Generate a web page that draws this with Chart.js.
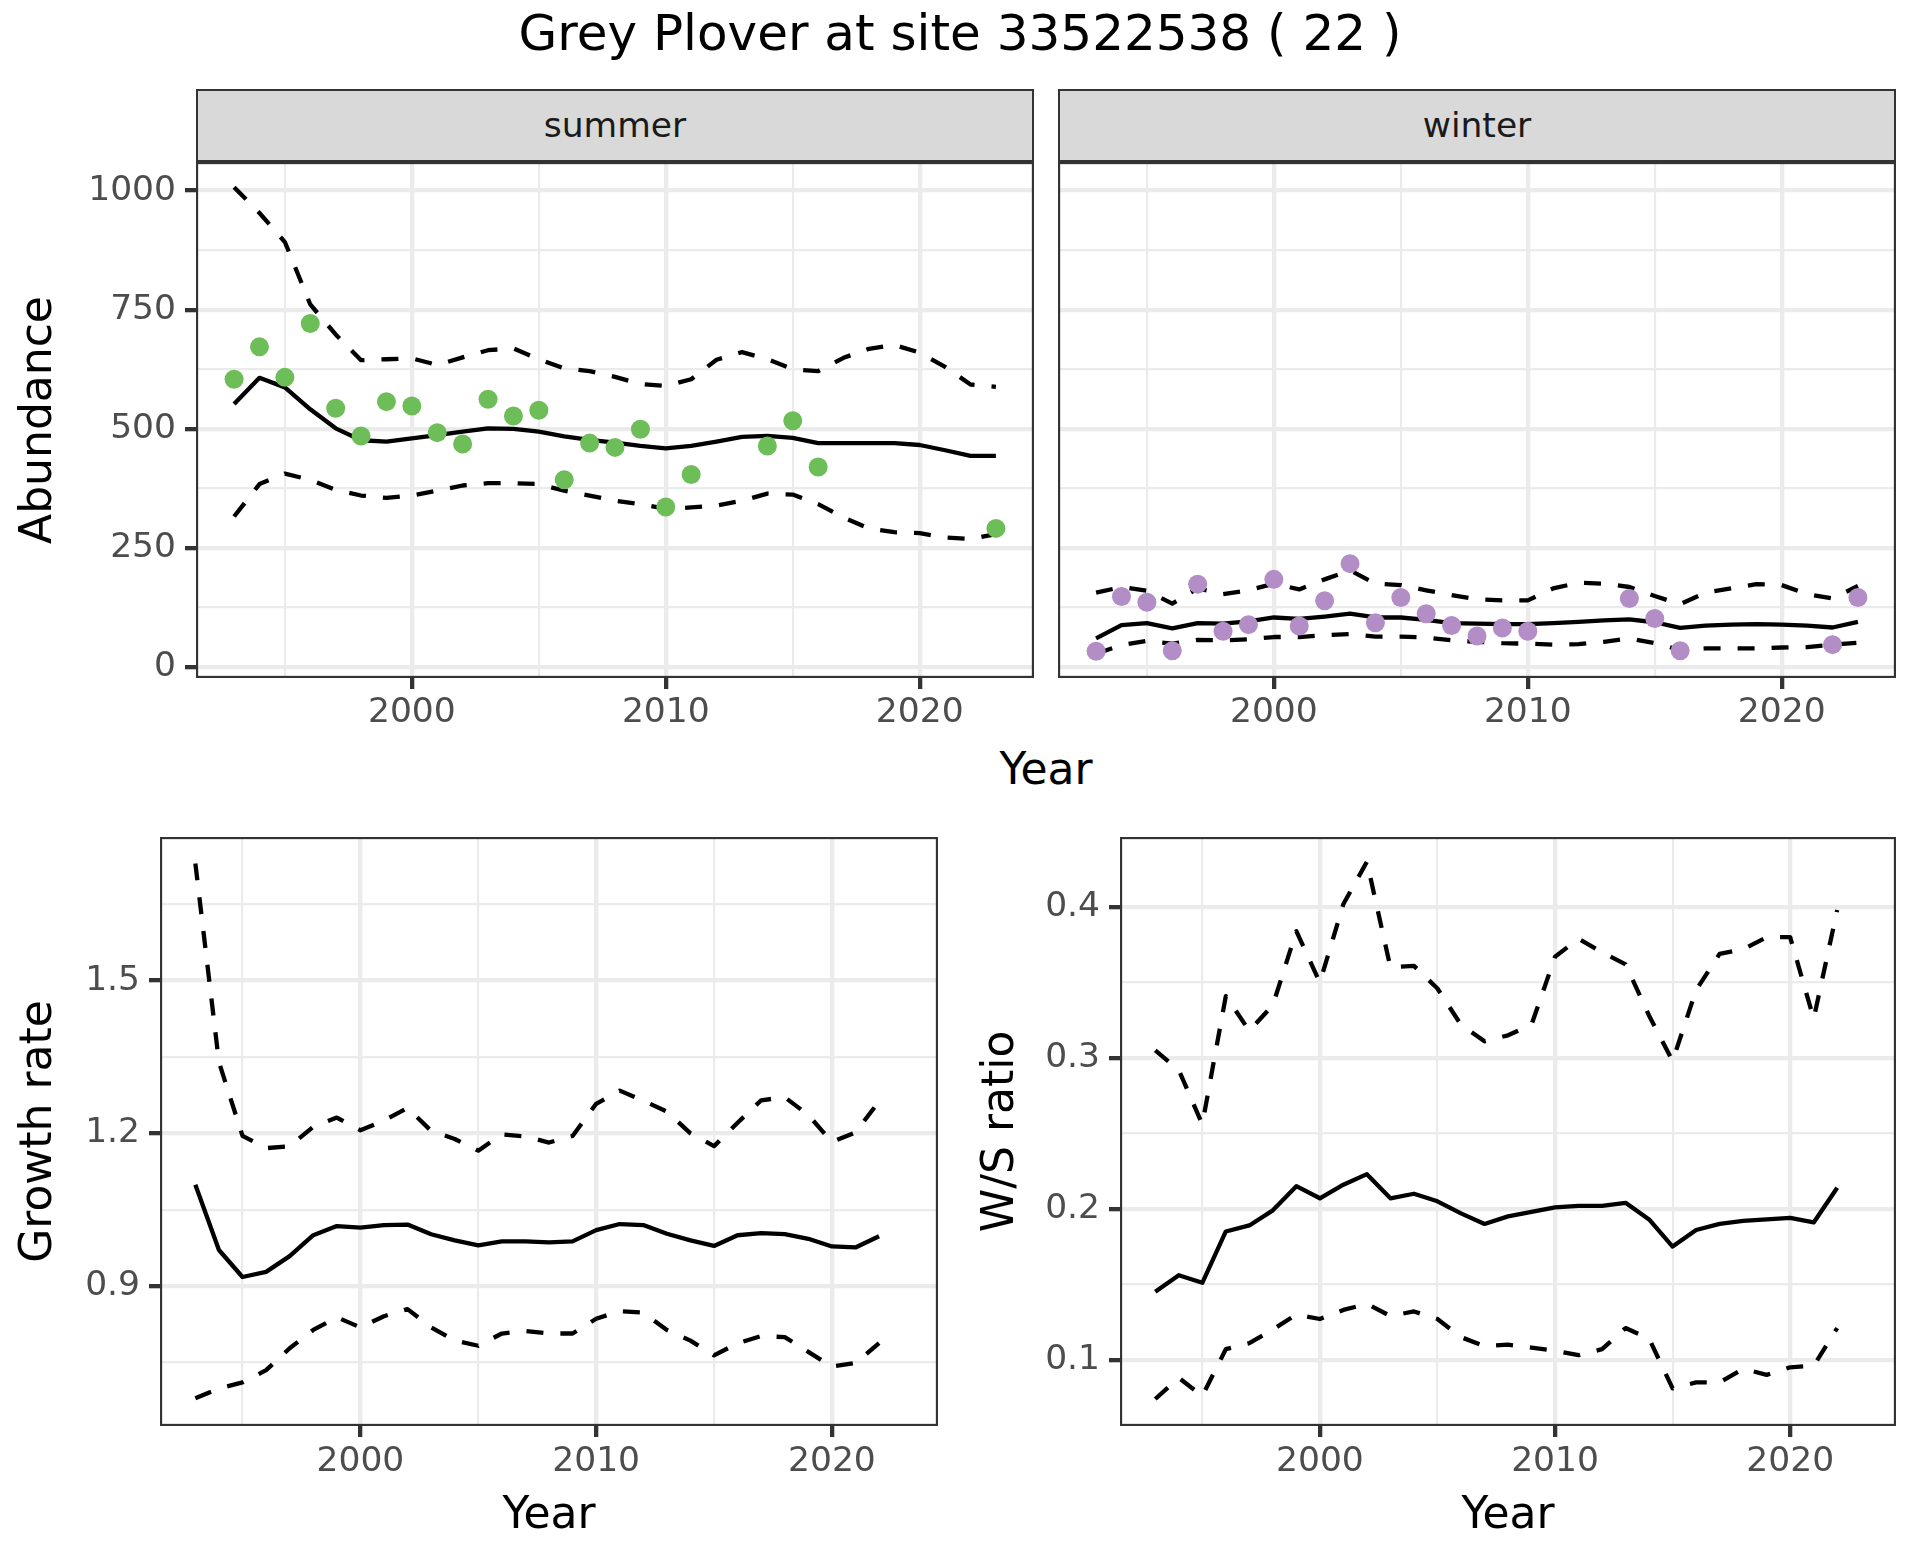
<!DOCTYPE html>
<html>
<head>
<meta charset="utf-8">
<script src="https://cdn.jsdelivr.net/npm/chart.js@4/dist/chart.umd.min.js"></script>
<style>
html, body { margin: 0; padding: 0; background: #ffffff; }
#page { position: relative; width: 1920px; height: 1560px; overflow: hidden; font-family: 'DejaVu Sans', sans-serif; background: #ffffff; }
canvas { position: absolute; }
.txt { position: absolute; white-space: nowrap; line-height: 1; color: #000000; }
.strip { position: absolute; box-sizing: border-box; background: #d9d9d9; border: 2px solid #333333;
         display: flex; align-items: center; justify-content: center; font-size: 34.5px; color: #1a1a1a; line-height: 1; }
</style>
</head>
<body>
<div id="page">
  <div class="txt" style="left:0; width:1920px; text-align:center; top:8px; font-size:50px;">Grey Plover at site 33522538 ( 22 )</div>
  <div class="strip" style="left:196px; top:89px; width:838px; height:73px;">summer</div>
  <div class="strip" style="left:1058px; top:89px; width:838px; height:73px;">winter</div>
  <div class="txt" style="left:0; width:2092px; text-align:center; top:747px; font-size:44px;">Year</div>
  <canvas id="cSummer" width="1080" height="638" style="left:0px; top:122px; width:1080px; height:638px;"></canvas>
  <canvas id="cWinter" width="900" height="638" style="left:1040px; top:122px; width:900px; height:638px;"></canvas>
  <canvas id="cGrowth" width="990" height="760" style="left:0px; top:800px; width:990px; height:760px;"></canvas>
  <canvas id="cRatio" width="1000" height="760" style="left:960px; top:800px; width:1000px; height:760px;"></canvas>
</div>
<script>
// ---------------- data ----------------
const years = [1993, 1994, 1995, 1996, 1997, 1998, 1999, 2000, 2001, 2002, 2003, 2004, 2005, 2006, 2007, 2008,
               2009, 2010, 2011, 2012, 2013, 2014, 2015, 2016, 2017, 2018, 2019, 2020, 2021, 2022, 2023];
const ratioYears = [1993, 1994, 1995, 1996, 1997, 1998, 1999, 2000, 2001, 2002, 2003, 2004, 2005, 2006, 2007,
                    2008, 2009, 2010, 2011, 2012, 2013, 2014, 2015, 2016, 2017, 2018, 2019, 2020, 2021, 2022];

const summerObserved = [604, 672, 608, 721, 543, 485, 557, 548, 492, 468, 562, 527, 539, 393, 470, 461,
                        499, 336, 404, null, null, 464, 517, 420, null, null, null, null, null, null, 291];
const summerFit   = [552, 607, 587, 541, 501, 476, 473, 480, 487, 494, 501, 500, 494, 484, 477, 471,
                     464, 459, 464, 473, 483, 485, 481, 470, 470, 470, 470, 466, 455, 443, 443];
const summerUpper = [1007, 953, 892, 761, 698, 644, 646, 648, 634, 650, 665, 669, 646, 627, 621, 609,
                     594, 590, 604, 645, 661, 646, 625, 621, 649, 668, 676, 660, 630, 593, 588];
const summerLower = [316, 384, 406, 393, 372, 360, 355, 360, 370, 381, 386, 386, 384, 370, 360, 349,
                     342, 332, 335, 339, 349, 364, 362, 342, 314, 291, 283, 281, 272, 269, 279];

const winterObserved = [33, 148, 136, 34, 174, 75, 89, 184, 86, 139, 217, 93, 146, 112, 87, 65,
                        82, 75, null, null, null, 144, 102, 34, null, null, null, null, null, 47, 146];
const winterFit   = [60, 88, 92, 81, 92, 91, 96, 104, 101, 106, 112, 104, 104, 99, 92, 91,
                     90, 90, 92, 95, 98, 100, 94, 82, 87, 89, 90, 89, 87, 83, 95];
const winterUpper = [156, 168, 160, 133, 165, 153, 161, 175, 163, 184, 203, 175, 172, 161, 151, 142,
                     140, 140, 165, 177, 175, 168, 149, 132, 156, 165, 174, 172, 153, 144, 170];
const winterLower = [28, 46, 55, 49, 57, 56, 58, 63, 63, 67, 69, 64, 64, 62, 56, 53,
                     50, 49, 47, 48, 53, 60, 50, 36, 39, 39, 39, 41, 42, 47, 51];

const growthFit   = [1.099, 0.971, 0.918, 0.928, 0.959, 1.000, 1.018, 1.015, 1.020, 1.021, 1.002, 0.990, 0.980, 0.988, 0.988,
                     0.986, 0.988, 1.010, 1.022, 1.020, 1.003, 0.990, 0.979, 1.000, 1.004, 1.002, 0.993, 0.978, 0.976, 0.998];
const growthUpper = [1.730, 1.340, 1.195, 1.171, 1.175, 1.213, 1.231, 1.206, 1.225, 1.250, 1.205, 1.189, 1.166, 1.198, 1.194,
                     1.182, 1.195, 1.258, 1.284, 1.264, 1.243, 1.200, 1.175, 1.221, 1.265, 1.271, 1.236, 1.183, 1.202, 1.263];
const growthLower = [0.680, 0.699, 0.711, 0.735, 0.778, 0.814, 0.839, 0.819, 0.841, 0.855, 0.819, 0.793, 0.783, 0.807, 0.812,
                     0.807, 0.807, 0.836, 0.851, 0.848, 0.814, 0.793, 0.764, 0.788, 0.802, 0.800, 0.771, 0.742, 0.749, 0.788];

const ratioFit   = [0.145, 0.156, 0.151, 0.185, 0.189, 0.199, 0.215, 0.207, 0.216, 0.223, 0.207, 0.210, 0.205, 0.197, 0.190,
                    0.195, 0.198, 0.201, 0.202, 0.202, 0.204, 0.193, 0.175, 0.186, 0.190, 0.192, 0.193, 0.194, 0.191, 0.214];
const ratioUpper = [0.305, 0.292, 0.256, 0.341, 0.318, 0.335, 0.384, 0.350, 0.402, 0.430, 0.360, 0.361, 0.346, 0.322, 0.311,
                    0.315, 0.322, 0.367, 0.379, 0.370, 0.362, 0.328, 0.298, 0.345, 0.369, 0.372, 0.380, 0.380, 0.326, 0.398];
const ratioLower = [0.074, 0.088, 0.076, 0.107, 0.111, 0.120, 0.130, 0.127, 0.133, 0.137, 0.129, 0.132, 0.127, 0.115, 0.109,
                    0.110, 0.108, 0.106, 0.103, 0.107, 0.121, 0.114, 0.081, 0.085, 0.085, 0.094, 0.090, 0.095, 0.096, 0.121];

// tick values and labels
const yearTicks = [2000, 2010, 2020];
const yearTickLabels = ['2000', '2010', '2020'];
const yearMinorTicks = [1995, 2005, 2015];
const abundanceTicks = [0, 250, 500, 750, 1000];
const abundanceTickLabels = ['0', '250', '500', '750', '1000'];
const abundanceMinorTicks = [125, 375, 625, 875];
const growthTicks = [0.9, 1.2, 1.5];
const growthTickLabels = ['0.9', '1.2', '1.5'];
const growthMinorTicks = [0.75, 1.05, 1.35, 1.65];
const ratioTicks = [0.1, 0.2, 0.3, 0.4];
const ratioTickLabels = ['0.1', '0.2', '0.3', '0.4'];
const ratioMinorTicks = [0.15, 0.25, 0.35];

// ---------------- styling ----------------
const FONT = "'DejaVu Sans', sans-serif";
const GREEN = '#6DBE58';
const PURPLE = '#B28DC6';
const LW = 4.3;
const DASH = [17, 17];

function pairs(xs, ys) {
  return xs.map((x, i) => ({ x: x, y: ys[i] })).filter(p => p.y !== null);
}

function axisOptions(cfg) {
  const all = cfg.minor.concat(cfg.major).sort((a, b) => a - b);
  const isMajor = c => c.tick && cfg.major.indexOf(c.tick.value) >= 0;
  return {
    type: 'linear',
    position: cfg.isX ? 'bottom' : 'left',
    min: cfg.min, max: cfg.max, bounds: 'data',
    afterBuildTicks: s => { s.ticks = all.map(v => ({ value: v })); },
    afterFit: s => { if (cfg.isX) { s.height = cfg.size; } else { s.width = cfg.size; } },
    border: { display: false },
    grid: {
      color: '#ebebeb',
      lineWidth: c => isMajor(c) ? LW : LW / 2,
      drawTicks: cfg.showTicks,
      tickLength: 11,
      tickWidth: LW,
      tickColor: c => isMajor(c) ? '#333333' : 'rgba(0,0,0,0)'
    },
    ticks: {
      display: cfg.showLabels,
      autoSkip: false, maxRotation: 0, minRotation: 0,
      padding: cfg.tickPad,
      color: '#4d4d4d',
      font: { family: FONT, size: 34.5 },
      callback: v => { const i = cfg.major.indexOf(v); return i >= 0 ? cfg.labels[i] : ''; }
    },
    title: cfg.title ? {
      display: true, text: cfg.title, color: '#000000',
      font: { family: FONT, size: 44, lineHeight: 1 },
      padding: cfg.titlePad
    } : { display: false }
  };
}

const panelBorder = {
  id: 'panelBorder',
  afterDatasetsDraw(chart) {
    const a = chart.chartArea, ctx = chart.ctx;
    ctx.save();
    ctx.strokeStyle = '#333333';
    ctx.lineWidth = 2.15;
    ctx.strokeRect(a.left + 1.075, a.top + 1.075, a.right - a.left - 2.15, a.bottom - a.top - 2.15);
    ctx.restore();
  }
};

function lineSet(label, xs, ys, dashed) {
  return { label: label, data: pairs(xs, ys), showLine: true, borderColor: '#000000', borderWidth: LW,
           borderDash: dashed ? DASH : [], borderCapStyle: 'butt', borderJoinStyle: 'round',
           pointRadius: 0, tension: 0, order: 1 };
}
function pointSet(label, xs, ys, color) {
  return { label: label, data: pairs(xs, ys), showLine: false, pointRadius: 9.5, pointBorderWidth: 0,
           pointBackgroundColor: color, backgroundColor: color, borderColor: color, order: 0 };
}

function makeChart(id, datasets, xAxis, yAxis, padding) {
  return new Chart(document.getElementById(id), {
    type: 'scatter',
    data: { datasets: datasets },
    options: {
      responsive: false, animation: false, events: [],
      layout: { padding: padding },
      plugins: { legend: { display: false }, tooltip: { enabled: false }, title: { display: false } },
      scales: { x: xAxis, y: yAxis }
    },
    plugins: [panelBorder]
  });
}

const topX = { isX: true, min: 1991.5, max: 2024.5, major: yearTicks, labels: yearTickLabels, minor: yearMinorTicks,
               size: 82, showTicks: true, showLabels: true, tickPad: 3.5 };
const bottomX = (title) => Object.assign({}, topX, { size: 134, tickPad: 4.3, title: title, titlePad: { top: 0, bottom: 21.5 } });

// summer panel
makeChart('cSummer', [
    pointSet('summer counts', years, summerObserved, GREEN),
    lineSet('summer fit', years, summerFit, false),
    lineSet('summer upper', years, summerUpper, true),
    lineSet('summer lower', years, summerLower, true)
  ],
  axisOptions(topX),
  axisOptions({ isX: false, min: -23, max: 1060, major: abundanceTicks, labels: abundanceTickLabels,
                minor: abundanceMinorTicks, size: 196, showTicks: true, showLabels: true, tickPad: 9,
                title: 'Abundance', titlePad: { top: 17.5, bottom: 0 } }),
  { left: 0, top: 40, right: 46, bottom: 0 });

// winter panel
makeChart('cWinter', [
    pointSet('winter counts', years, winterObserved, PURPLE),
    lineSet('winter fit', years, winterFit, false),
    lineSet('winter upper', years, winterUpper, true),
    lineSet('winter lower', years, winterLower, true)
  ],
  axisOptions(topX),
  axisOptions({ isX: false, min: -23, max: 1060, major: abundanceTicks, labels: abundanceTickLabels,
                minor: abundanceMinorTicks, size: 0, showTicks: false, showLabels: false, tickPad: 9 }),
  { left: 18, top: 40, right: 44, bottom: 0 });

// growth rate panel
makeChart('cGrowth', [
    lineSet('growth fit', ratioYears, growthFit, false),
    lineSet('growth upper', ratioYears, growthUpper, true),
    lineSet('growth lower', ratioYears, growthLower, true)
  ],
  axisOptions(bottomX('Year')),
  axisOptions({ isX: false, min: 0.6254, max: 1.782, major: growthTicks, labels: growthTickLabels,
                minor: growthMinorTicks, size: 160, showTicks: true, showLabels: true, tickPad: 9,
                title: 'Growth rate', titlePad: { top: 17.5, bottom: 0 } }),
  { left: 0, top: 37, right: 52, bottom: 0 });

// W/S ratio panel
makeChart('cRatio', [
    lineSet('ratio fit', ratioYears, ratioFit, false),
    lineSet('ratio upper', ratioYears, ratioUpper, true),
    lineSet('ratio lower', ratioYears, ratioLower, true)
  ],
  axisOptions(bottomX('Year')),
  axisOptions({ isX: false, min: 0.0561, max: 0.4464, major: ratioTicks, labels: ratioTickLabels,
                minor: ratioMinorTicks, size: 160, showTicks: true, showLabels: true, tickPad: 9,
                title: 'W/S ratio', titlePad: { top: 20, bottom: 0 } }),
  { left: 0, top: 37, right: 64, bottom: 0 });
</script>
</body>
</html>
